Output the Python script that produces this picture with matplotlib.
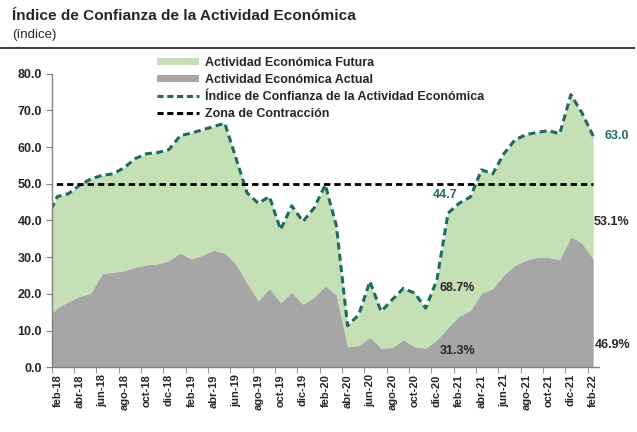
import numpy as np
import matplotlib.pyplot as plt
from matplotlib.patches import Patch
from matplotlib.lines import Line2D

plt.rcParams['font.family'] = ['Liberation Sans', 'DejaVu Sans']

# serie mensual ene-18 .. feb-22 (ene-18 solo asoma en el borde izquierdo)
meses = ['ene-18', 'feb-18', 'mar-18', 'abr-18', 'may-18', 'jun-18', 'jul-18', 'ago-18', 'sep-18',
         'oct-18', 'nov-18', 'dic-18', 'ene-19', 'feb-19', 'mar-19', 'abr-19', 'may-19', 'jun-19',
         'jul-19', 'ago-19', 'sep-19', 'oct-19', 'nov-19', 'dic-19', 'ene-20', 'feb-20', 'mar-20',
         'abr-20', 'may-20', 'jun-20', 'jul-20', 'ago-20', 'sep-20', 'oct-20', 'nov-20', 'dic-20',
         'ene-21', 'feb-21', 'mar-21', 'abr-21', 'may-21', 'jun-21', 'jul-21', 'ago-21', 'sep-21',
         'oct-21', 'nov-21', 'dic-21', 'ene-22', 'feb-22']

indice = [40.3, 46.5, 47.3, 49.6, 51.3, 52.3, 52.7, 54.4, 56.9, 58.2, 58.5, 59.3, 63.1, 63.8,
          64.7, 65.6, 66.5, 57.0, 47.5, 44.7, 46.5, 37.5, 44.0, 39.7, 43.4, 49.7, 38.5, 11.3,
          14.3, 23.4, 15.2, 18.4, 21.5, 20.2, 16.1, 23.8, 42.0, 44.7, 46.4, 53.8, 52.7, 58.2,
          62.0, 63.4, 64.0, 64.5, 63.6, 74.3, 69.3, 63.0]

actual = [13.2, 16.2, 17.9, 19.3, 20.2, 25.5, 25.9, 26.3, 27.3, 27.9, 28.2, 29.1, 31.1, 29.5,
          30.5, 31.9, 31.1, 28.1, 22.9, 18.2, 21.5, 17.6, 20.4, 17.2, 19.1, 22.2, 19.7, 5.6,
          5.9, 8.1, 5.2, 5.4, 7.5, 5.6, 5.2, 7.5, 10.9, 14.0, 15.5, 20.2, 21.5, 25.2, 27.8,
          29.2, 29.9, 29.9, 29.3, 35.6, 33.8, 29.5]

zona = 50.0

# etiquetas de participación (feb-21 y feb-22)
part_fut = ['68.7%', '53.1%']
part_act = ['31.3%', '46.9%']
meses_etiq = ['feb-21', 'feb-22']

c_fut = '#c5e0b4'
c_act = '#a6a6a6'
c_ind = '#1f6b62'
c_txt = '#262626'

x = np.arange(len(meses)) - 1  # feb-18 = 0

fig = plt.figure(figsize=(6.37, 4.32), dpi=100)
ax = fig.add_axes([0.0812, 0.150, 0.8588, 0.6794])

ax.fill_between(x, 0, actual, color=c_act, lw=0)
ax.fill_between(x, actual, indice, color=c_fut, lw=0)
ax.plot(x, indice, color=c_ind, lw=2.2, dashes=(2.3, 1.4))
ax.plot(x, np.full(len(x), zona), color='black', lw=2.0, dashes=(2.3, 1.4))

ax.set_xlim(-0.5, 48.5)
ax.set_ylim(0, 80)

# ejes
for s in ['top', 'right']:
    ax.spines[s].set_visible(False)
for s in ['left', 'bottom']:
    ax.spines[s].set_color('#808080')
    ax.spines[s].set_linewidth(1.0)

ax.set_yticks(np.arange(0, 81, 10))
ax.set_yticklabels([f'{v:.1f}' for v in np.arange(0, 81, 10)], fontsize=9, fontweight='bold',
                   color=c_txt)
ax.tick_params(axis='y', length=4, color='#808080', pad=3)

lab_idx = list(range(1, len(meses), 2))
ax.set_xticks(x[lab_idx])
ax.set_xticklabels([meses[i] for i in lab_idx], rotation=90, fontsize=8, fontweight='bold',
                   color=c_txt)
ax.tick_params(axis='x', length=0, pad=5)
ax.set_xticks(x[lab_idx] - 0.5, minor=True)
ax.tick_params(axis='x', which='minor', length=4, color='#808080')

# etiquetas
i_ult = len(meses) - 1
i_f21 = meses.index(meses_etiq[0])
ax.annotate(f'{indice[i_ult]:.1f}', xy=(x[i_ult], indice[i_ult]), xytext=(8, 0),
            textcoords='offset points', ha='left', va='center', fontsize=9,
            fontweight='bold', color=c_ind)
ax.annotate(f'{indice[i_f21]:.1f}', xy=(x[i_f21], indice[i_f21]), xytext=(-1, 6),
            textcoords='offset points', ha='right', va='center', fontsize=9,
            fontweight='bold', color=c_ind)
ax.annotate(part_fut[1], xy=(x[i_ult], 39.5), xytext=(0, 0), textcoords='offset points',
            ha='left', va='center', fontsize=9, fontweight='bold', color=c_txt)
ax.annotate(part_act[1], xy=(x[i_ult], 6.0), xytext=(1, 0), textcoords='offset points',
            ha='left', va='center', fontsize=9, fontweight='bold', color=c_txt)
ax.annotate(part_fut[0], xy=(x[i_f21], 21.6), xytext=(-14, 0), textcoords='offset points',
            ha='left', va='center', fontsize=9, fontweight='bold', color=c_txt)
ax.annotate(part_act[0], xy=(x[i_f21], 4.4), xytext=(-14, 0), textcoords='offset points',
            ha='left', va='center', fontsize=9, fontweight='bold', color=c_txt)

handles = [Patch(color=c_fut, lw=0), Patch(color=c_act, lw=0),
           Line2D([], [], color=c_ind, lw=2.2, dashes=(2.0, 1.2)),
           Line2D([], [], color='black', lw=2.2, dashes=(2.0, 1.2))]
labels = ['Actividad Económica Futura', 'Actividad Económica Actual',
          'Índice de Confianza de la Actividad Económica', 'Zona de Contracción']
leg = fig.legend(handles, labels, loc='upper left', bbox_to_anchor=(0.246, 0.868),
                 frameon=False, fontsize=9, handlelength=3.4, handleheight=0.5,
                 handletextpad=0.45, labelspacing=0.40, borderaxespad=0, borderpad=0)
for t in leg.get_texts():
    t.set_fontweight('bold')
    t.set_color(c_txt)

fig.text(0.019, 0.963, 'Índice de Confianza de la Actividad Económica', fontsize=11.1,
         fontweight='bold', color=c_txt, va='center', ha='left')
fig.text(0.019, 0.918, '(índice)', fontsize=9.5, color=c_txt, va='center', ha='left')
fig.add_artist(Line2D([0.0, 0.995], [0.889, 0.889], transform=fig.transFigure,
                      color='#404040', lw=1.5))

fig.savefig('out.png', dpi=100)
